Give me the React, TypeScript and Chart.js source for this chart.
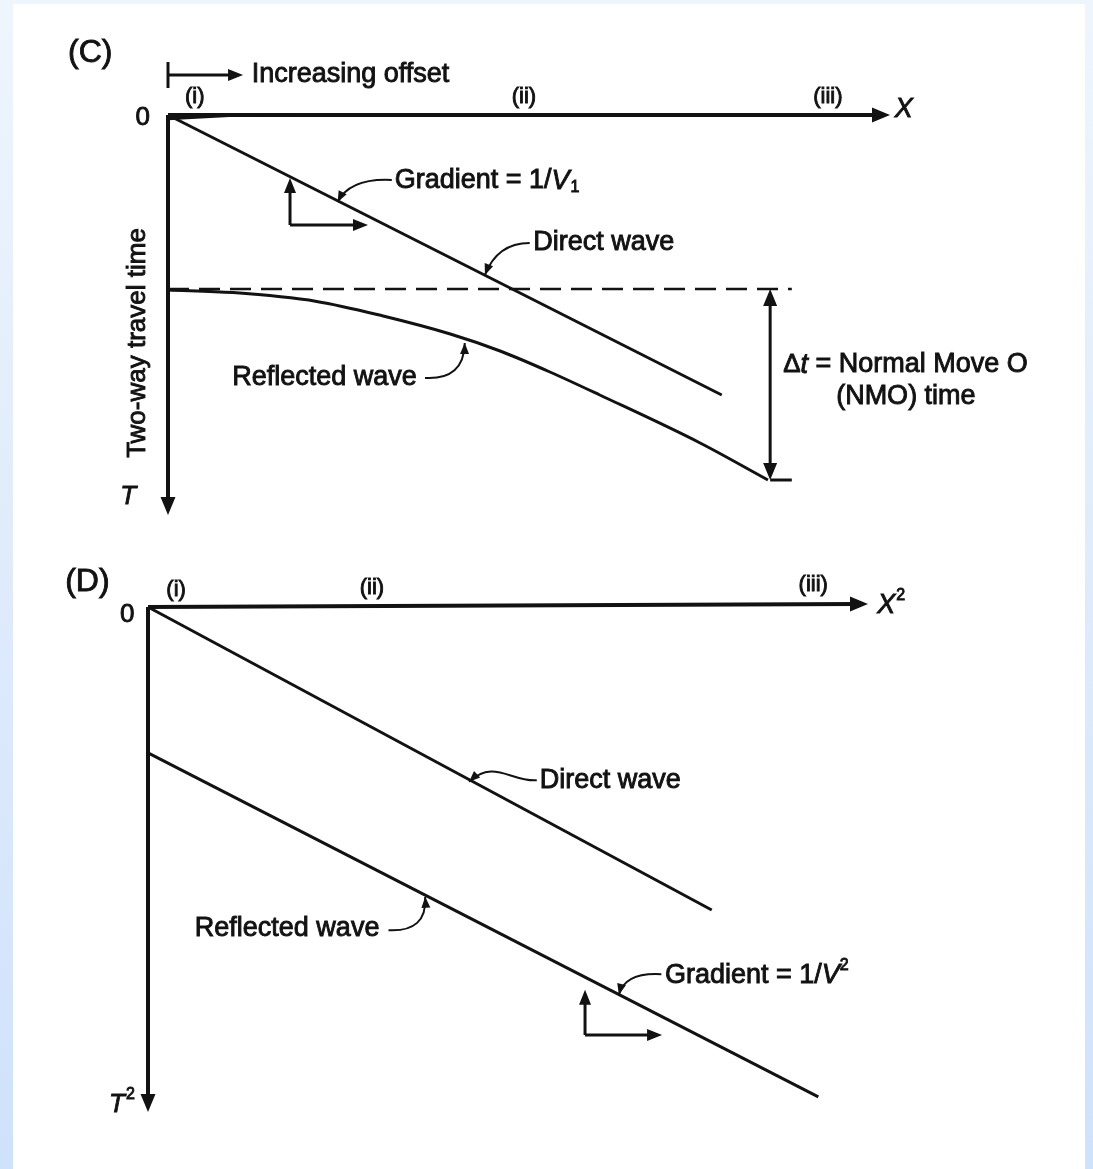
import React, { useEffect, useRef } from "react";
import { Chart, registerables } from "chart.js";

Chart.register(...registerables);

// ---------- Data (panel C: X vs T, panel D: X^2 vs T^2), units 0..100 on each axis ----------
const panelCDirectX = [0, 76.7];
const panelCDirectT = [0, 70.0];
const panelCReflectedX = [0, 9.0, 20.6, 29.8, 39.1, 46.0, 52.9, 59.8, 73.7, 83.1];
const panelCReflectedT = [43.75, 44.4, 46.6, 50.25, 54.75, 59.0, 64.25, 70.0, 82.0, 91.25];
const panelCZeroOffsetX = [0, 86.4];
const panelCZeroOffsetT = [43.5, 43.5];
const panelCNmoX = 83.4;

const panelDDirectX = [0, 78.3];
const panelDDirectT2 = [0, 60.0];
const panelDReflectedX = [0, 93.1];
const panelDReflectedT2 = [28.9, 97.0];

const regionLabels = ["(i)", "(ii)", "(iii)"];
const panelCRegionX = [3.7, 49.3, 91.4];
const panelDRegionX = [3.9, 31.1, 92.4];
const panelDRegionY = [-3.4, -3.8, -4.4];

const toPts = (xs: number[], ys: number[]) => xs.map((x, i) => ({ x, y: ys[i] }));

// ---------- drawing helpers ----------
type Pt = [number, number];
const FONT = '"Liberation Sans", Arial, Helvetica, sans-serif';
const INK = "#121212";
const F = (size: number, style = "") => `${style} ${size}px ${FONT}`.trim();
const TEXT_STROKE = 0.9;

function arrowHead(ctx: CanvasRenderingContext2D, tip: Pt, from: Pt, len = 16, half = 7) {
  const dx = tip[0] - from[0];
  const dy = tip[1] - from[1];
  const d = Math.hypot(dx, dy) || 1;
  const ux = dx / d;
  const uy = dy / d;
  const bx = tip[0] - ux * len;
  const by = tip[1] - uy * len;
  ctx.beginPath();
  ctx.moveTo(tip[0], tip[1]);
  ctx.lineTo(bx - uy * half, by + ux * half);
  ctx.lineTo(bx + uy * half, by - ux * half);
  ctx.closePath();
  ctx.fill();
}

function seg(ctx: CanvasRenderingContext2D, a: Pt, b: Pt, w: number) {
  ctx.lineWidth = w;
  ctx.beginPath();
  ctx.moveTo(a[0], a[1]);
  ctx.lineTo(b[0], b[1]);
  ctx.stroke();
}

function arrow(ctx: CanvasRenderingContext2D, a: Pt, b: Pt, w: number, len: number, half: number) {
  const dx = b[0] - a[0];
  const dy = b[1] - a[1];
  const d = Math.hypot(dx, dy) || 1;
  const end: Pt = [b[0] - (dx / d) * len * 0.6, b[1] - (dy / d) * len * 0.6];
  seg(ctx, a, end, w);
  arrowHead(ctx, b, a, len, half);
}

function leader(ctx: CanvasRenderingContext2D, pts: Pt[]) {
  ctx.lineWidth = 2;
  ctx.beginPath();
  ctx.moveTo(pts[0][0], pts[0][1]);
  if (pts.length === 3) ctx.quadraticCurveTo(pts[1][0], pts[1][1], pts[2][0], pts[2][1]);
  else ctx.bezierCurveTo(pts[1][0], pts[1][1], pts[2][0], pts[2][1], pts[3][0], pts[3][1]);
  ctx.stroke();
  arrowHead(ctx, pts[pts.length - 1], pts[pts.length - 2], 11, 4.5);
}

function paintText(ctx: CanvasRenderingContext2D, s: string, x: number, y: number) {
  ctx.fillText(s, x, y);
  ctx.lineWidth = TEXT_STROKE;
  ctx.strokeText(s, x, y);
}

type Run = { t: string; font: string; dy?: number; dx?: number };
function rich(ctx: CanvasRenderingContext2D, runs: Run[], p: Pt, align: "left" | "center" = "left") {
  ctx.textAlign = "left";
  ctx.textBaseline = "middle";
  let total = 0;
  for (const r of runs) {
    ctx.font = r.font;
    total += ctx.measureText(r.t).width + (r.dx || 0);
  }
  let cx = align === "center" ? p[0] - total / 2 : p[0];
  for (const r of runs) {
    ctx.font = r.font;
    cx += r.dx || 0;
    paintText(ctx, r.t, cx, p[1] + (r.dy || 0));
    cx += ctx.measureText(r.t).width;
  }
}

function txt(ctx: CanvasRenderingContext2D, s: string, p: Pt, font: string, align: CanvasTextAlign = "left") {
  ctx.font = font;
  ctx.textAlign = align;
  ctx.textBaseline = "middle";
  paintText(ctx, s, p[0], p[1]);
}

type Mapper = (x: number, y: number) => Pt;

function overlay(draw: (ctx: CanvasRenderingContext2D, P: Mapper) => void) {
  return {
    id: "diagramOverlay",
    afterDatasetsDraw(chart: any) {
      const ctx: CanvasRenderingContext2D = chart.ctx;
      const xs = chart.scales.x;
      const ys = chart.scales.y;
      const P: Mapper = (x, y) => [xs.getPixelForValue(x), ys.getPixelForValue(y)];
      ctx.save();
      ctx.fillStyle = INK;
      ctx.strokeStyle = INK;
      ctx.lineCap = "butt";
      draw(ctx, P);
      ctx.restore();
    },
  };
}

// ---------- panel C annotations ----------
const drawPanelC = (ctx: CanvasRenderingContext2D, P: Mapper) => {
  // axes
  arrow(ctx, P(0, 0), P(100, 0), 4, 18, 7.5);
  arrow(ctx, P(0, 0), P(0, 100), 4, 18, 7.5);
  // small wedge near origin
  ctx.beginPath();
  const w1 = P(0, 0.3), w2 = P(17, -0.3), w3 = P(0, 1.3);
  ctx.moveTo(w1[0], w1[1]);
  ctx.lineTo(w2[0], w2[1]);
  ctx.lineTo(w3[0], w3[1]);
  ctx.closePath();
  ctx.fill();

  txt(ctx, "(C)", P(-13.85, -15.5), F(32));
  // increasing offset
  seg(ctx, P(0, -13.25), P(0, -6.75), 3);
  arrow(ctx, P(0, -10), P(10.4, -10), 3, 15, 6);
  txt(ctx, "Increasing offset", P(11.6, -10), F(27));
  regionLabels.forEach((l, i) => txt(ctx, l, P(panelCRegionX[i], -4.5), F(22), "center"));
  txt(ctx, "0", P(-3.5, 0.75), F(26), "center");
  txt(ctx, "X", P(101.9, -1.5), F(27, "italic"), "center");
  txt(ctx, "T", P(-5.5, 95.5), F(26, "italic"), "center");
  // y label
  const yl = P(-4.2, 57);
  ctx.save();
  ctx.translate(yl[0], yl[1]);
  ctx.rotate(-Math.PI / 2);
  txt(ctx, "Two-way travel time", [0, 0], F(26), "center");
  ctx.restore();

  // gradient label
  rich(ctx, [
    { t: "Gradient = 1/", font: F(27) },
    { t: "V", font: F(27, "italic") },
    { t: "1", font: F(16), dy: 7, dx: 1 },
  ], P(31.4, 16.5));
  leader(ctx, [P(31.0, 16.25), P(25.2, 15.75), P(23.5, 21.75)]);
  // gradient triangle
  arrow(ctx, P(16.9, 27.5), P(16.9, 15.75), 3, 15, 6);
  arrow(ctx, P(16.9, 27.5), P(27.7, 27.5), 3, 15, 6);

  txt(ctx, "Direct wave", P(50.6, 32), F(27));
  leader(ctx, [P(50.1, 32), P(45.6, 32), P(43.9, 40)]);

  txt(ctx, "Reflected wave", P(8.9, 65.75), F(27));
  leader(ctx, [P(35.6, 65.75), P(41.0, 66.3), P(41.1, 57)]);

  // NMO arrow
  const top = P(panelCNmoX, 43.5);
  const bot = P(panelCNmoX, 91.25);
  seg(ctx, [top[0], top[1] + 10], [bot[0], bot[1] - 10], 3);
  arrowHead(ctx, top, bot, 17, 7);
  arrowHead(ctx, bot, top, 17, 7);
  seg(ctx, bot, P(86.4, 91.25), 3);

  rich(ctx, [
    { t: "\u0394", font: F(26) },
    { t: "t", font: F(27, "italic") },
    { t: " = Normal Move O", font: F(27) },
  ], P(85.2, 62.5));
  txt(ctx, "(NMO) time", P(102.2, 70.5), F(27), "center");
};

// ---------- panel D annotations ----------
const drawPanelD = (ctx: CanvasRenderingContext2D, P: Mapper) => {
  arrow(ctx, P(0, 0), P(100, -0.6), 4, 18, 7.5);
  arrow(ctx, P(0, 0), P(0, 100), 4, 18, 7.5);

  txt(ctx, "(D)", P(-11.5, -4.95), F(32));
  regionLabels.forEach((l, i) => txt(ctx, l, P(panelDRegionX[i], panelDRegionY[i]), F(22), "center"));
  txt(ctx, "0", P(-2.9, 1.6), F(26), "center");
  rich(ctx, [
    { t: "X", font: F(27, "italic") },
    { t: "2", font: F(16), dy: -10, dx: 1 },
  ], P(101.3, -0.3));
  rich(ctx, [
    { t: "T", font: F(26, "italic") },
    { t: "2", font: F(16), dy: -10, dx: 1 },
  ], P(-5.4, 98.6));

  txt(ctx, "Direct wave", P(54.4, 34.3), F(27));
  leader(ctx, [P(54.0, 34.3), P(50.5, 34.7), P(48.0, 30.0), P(44.6, 34.6)]);

  txt(ctx, "Reflected wave", P(6.5, 63.6), F(27));
  leader(ctx, [P(33.4, 64.0), P(38.8, 64.4), P(38.5, 57.4)]);

  rich(ctx, [
    { t: "Gradient = 1/", font: F(27) },
    { t: "V", font: F(27, "italic") },
    { t: "2", font: F(16), dy: -10 },
  ], P(71.8, 72.9));
  leader(ctx, [P(71.3, 72.7), P(66.2, 72.3), P(65.4, 76.8)]);

  arrow(ctx, P(60.7, 84.75), P(60.7, 75.8), 3, 15, 6);
  arrow(ctx, P(60.7, 84.75), P(71.4, 84.75), 3, 15, 6);
};

function makeConfig(datasets: any[], padding: any, draw: any): any {
  return {
    type: "scatter",
    data: { datasets },
    options: {
      responsive: false,
      animation: false,
      devicePixelRatio: 1,
      layout: { padding },
      plugins: { legend: { display: false }, tooltip: { enabled: false } },
      scales: {
        x: { type: "linear", min: 0, max: 100, display: false },
        y: { type: "linear", min: 0, max: 100, reverse: true, display: false },
      },
      elements: { point: { radius: 0, hoverRadius: 0 } },
    },
    plugins: [overlay(draw)],
  };
}

const lineDs = (label: string, data: any[], extra: any = {}) => ({
  label,
  data,
  showLine: true,
  borderColor: INK,
  borderWidth: 3,
  pointRadius: 0,
  clip: false,
  ...extra,
});

export default function App() {
  const refC = useRef<HTMLCanvasElement>(null);
  const refD = useRef<HTMLCanvasElement>(null);

  useEffect(() => {
    document.body.style.margin = "0";
    const c = new Chart(
      refC.current as HTMLCanvasElement,
      makeConfig(
        [
          lineDs("Direct wave", toPts(panelCDirectX, panelCDirectT)),
          lineDs("Reflected wave", toPts(panelCReflectedX, panelCReflectedT), { cubicInterpolationMode: "monotone" }),
          lineDs("Zero-offset time", toPts(panelCZeroOffsetX, panelCZeroOffsetT), { borderDash: [21, 10], borderWidth: 2.5 }),
        ],
        { left: 168, top: 115, right: 203, bottom: 45 },
        drawPanelC
      )
    );
    const d = new Chart(
      refD.current as HTMLCanvasElement,
      makeConfig(
        [
          lineDs("Direct wave", toPts(panelDDirectX, panelDDirectT2)),
          lineDs("Reflected wave", toPts(panelDReflectedX, panelDReflectedT2)),
        ],
        { left: 148, top: 47, right: 225, bottom: 57 },
        drawPanelD
      )
    );
    return () => {
      c.destroy();
      d.destroy();
    };
  }, []);

  return (
    <div
      style={{
        position: "absolute",
        left: 0,
        top: 0,
        width: 1093,
        height: 1169,
        overflow: "hidden",
        background: "linear-gradient(to bottom, #eef5fd 0%, #dfebfb 50%, #cfe2fb 100%)",
      }}
    >
      <div style={{ position: "absolute", left: 13, top: 4, width: 1072, height: 1165, background: "#ffffff" }} />
      <canvas ref={refC} width={1093} height={560} style={{ position: "absolute", left: 0, top: 0 }} />
      <canvas ref={refD} width={1093} height={609} style={{ position: "absolute", left: 0, top: 560 }} />
    </div>
  );
}
